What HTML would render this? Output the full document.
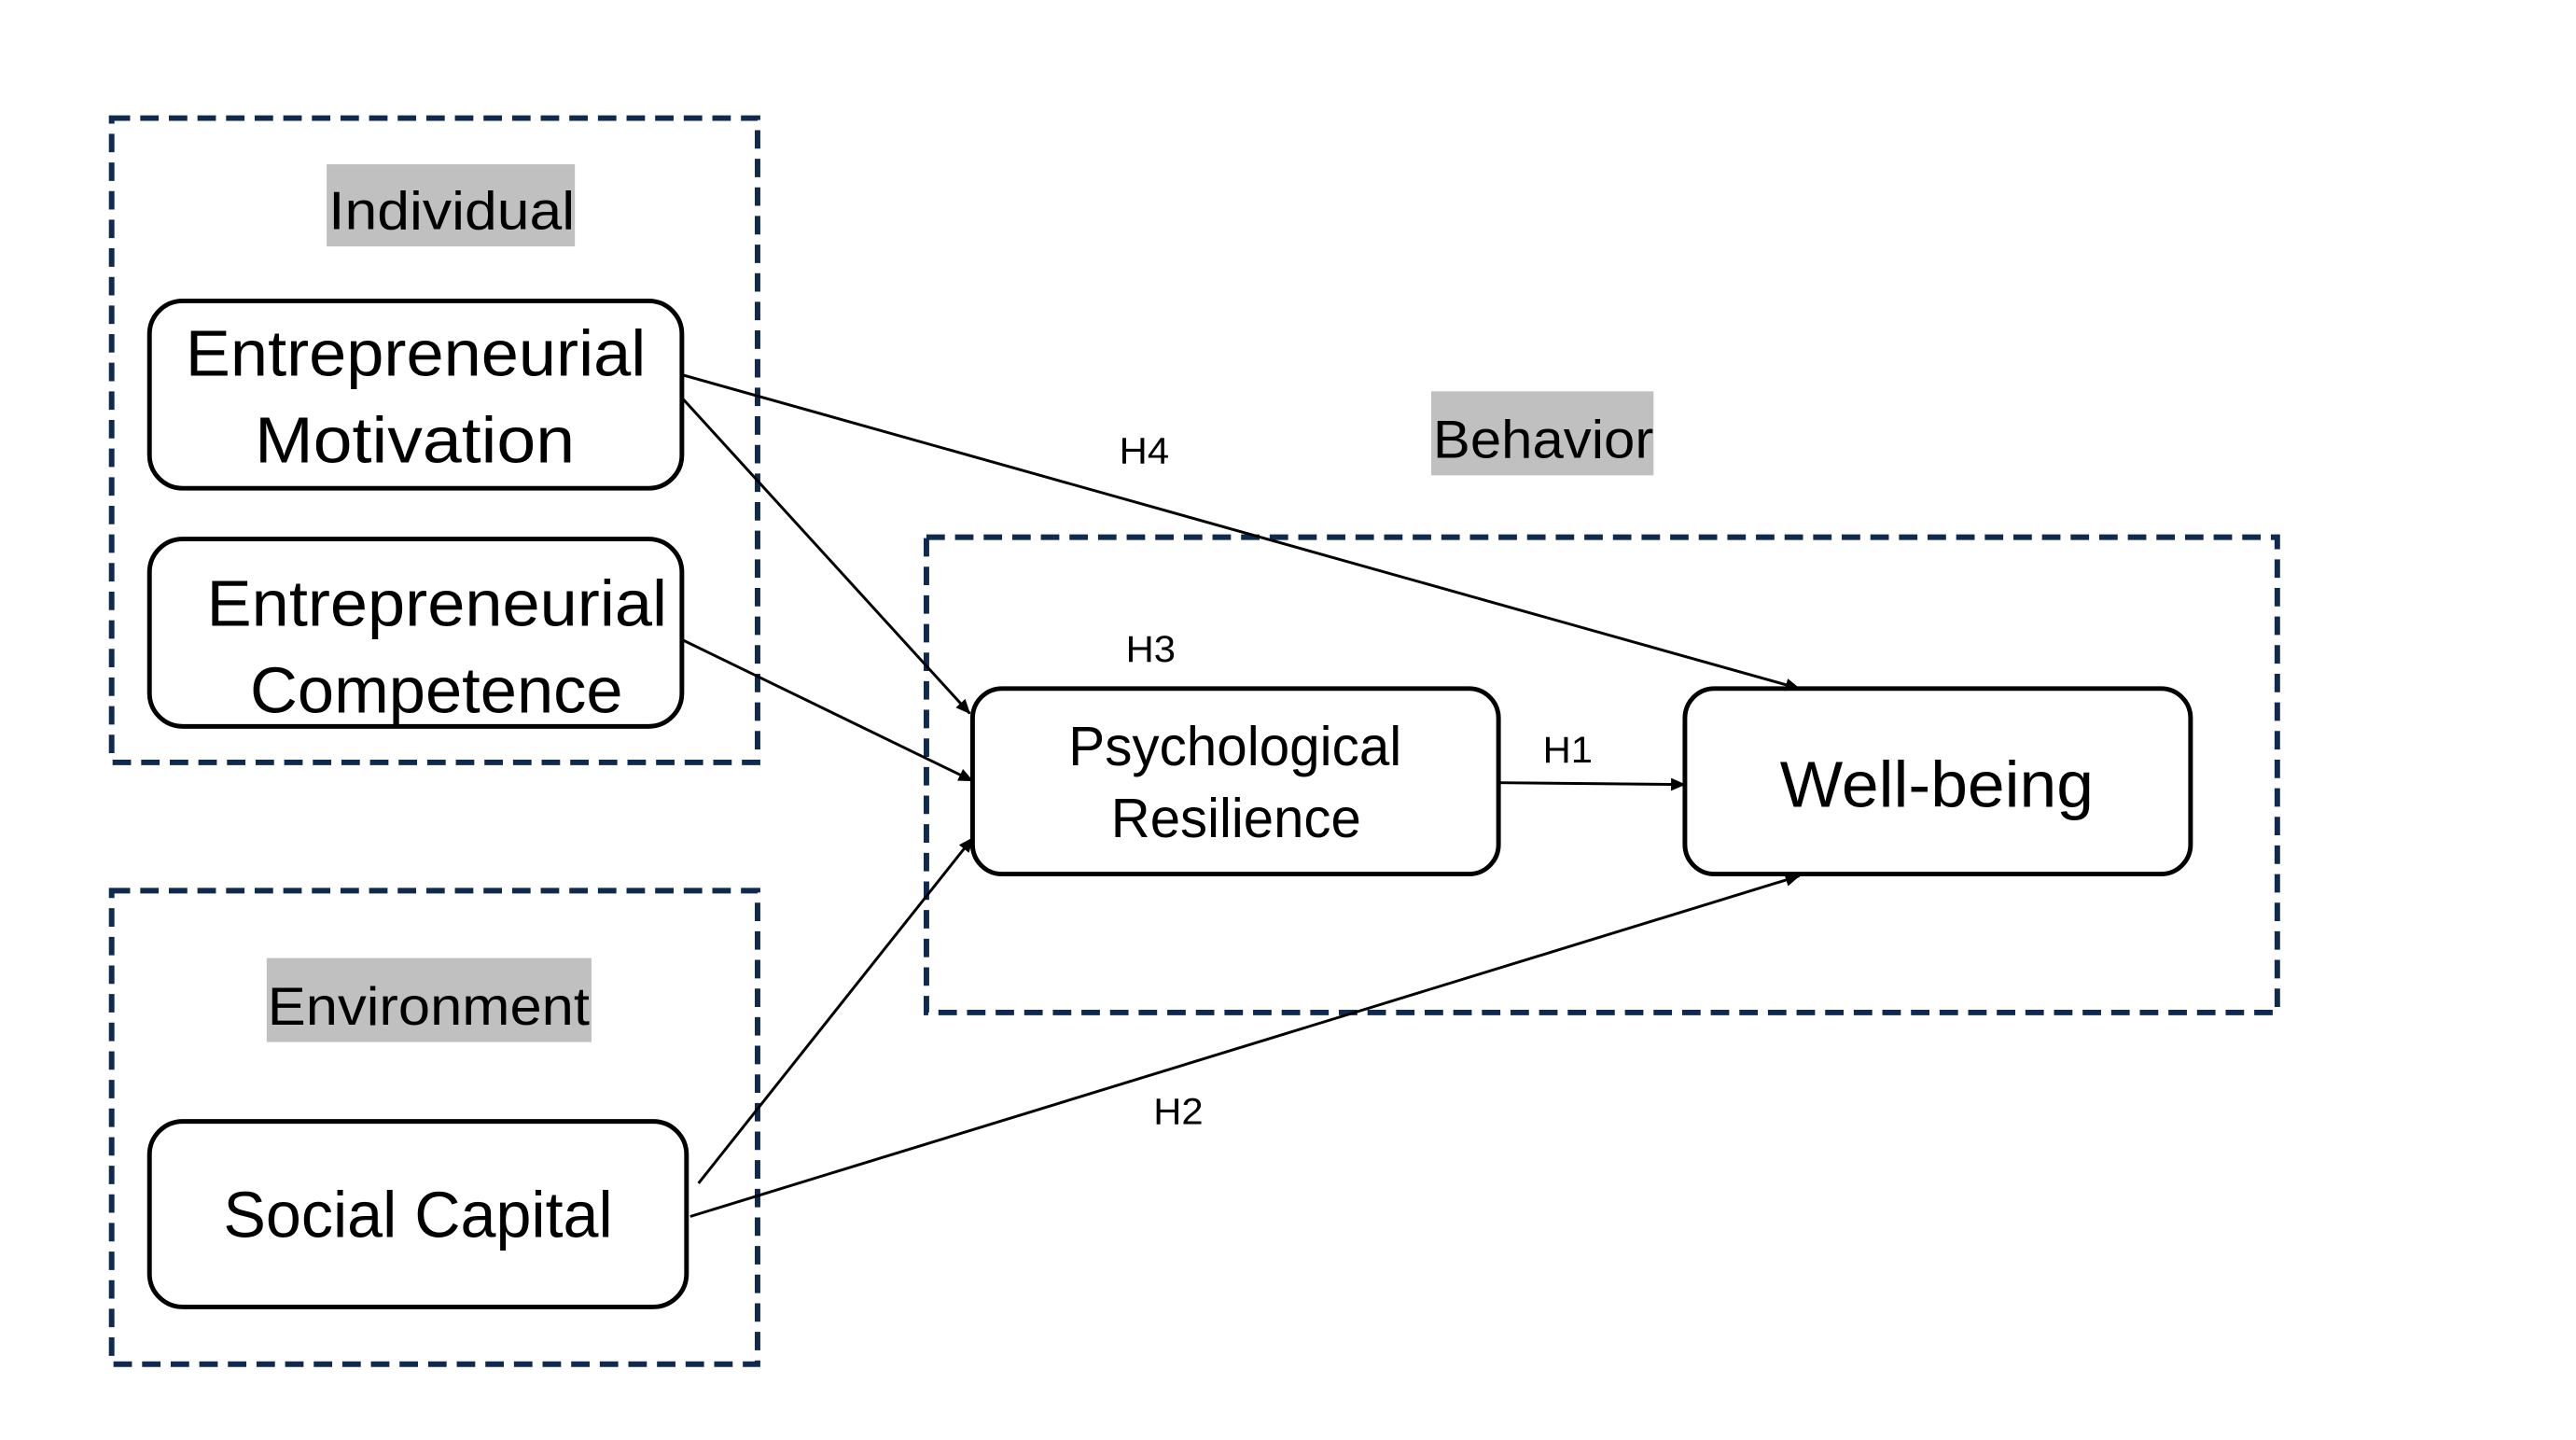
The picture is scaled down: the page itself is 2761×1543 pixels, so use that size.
<!DOCTYPE html>
<html><head><meta charset="utf-8"><style>html,body{margin:0;padding:0;background:#fff}svg{display:block}</style></head>
<body>
<svg width="2761" height="1543" viewBox="0 0 2761 1543" xmlns="http://www.w3.org/2000/svg" font-family="Liberation Sans, sans-serif" fill="#000">
<defs>
<marker id="b" markerWidth="16" markerHeight="14" refX="15" refY="7" orient="auto" markerUnits="userSpaceOnUse"><path d="M0,0 L16,7 L0,14 z" fill="#000"/></marker>
</defs>
<g transform="scale(0.989)">
<g fill="none" stroke="#0f2a4e" stroke-width="6" stroke-dasharray="20,11">
<rect x="121" y="128" width="700" height="698"/>
<rect x="121" y="965" width="700" height="513"/>
<rect x="1004" y="582" width="1464" height="515"/>
</g>
<g fill="#c0c0c0">
<rect x="354" y="178" width="269" height="89"/>
<rect x="289" y="1038" width="352" height="91"/>
<rect x="1551" y="424" width="241" height="91"/>
</g>
<g fill="#fff" stroke="#000" stroke-width="5">
<rect x="162" y="326" width="577" height="203" rx="36"/>
<rect x="162" y="584" width="577" height="203" rx="36"/>
<rect x="162" y="1215" width="582" height="201" rx="36"/>
<rect x="1054" y="746" width="570" height="201" rx="32"/>
<rect x="1826" y="746" width="548" height="201" rx="32"/>
</g>
<g stroke="#000" stroke-width="3" fill="none">
<line x1="739" y1="406" x2="1950" y2="746" marker-end="url(#b)"/>
<line x1="739" y1="431" x2="1051" y2="773" marker-end="url(#b)"/>
<line x1="739" y1="693" x2="1054" y2="846" marker-end="url(#b)"/>
<line x1="757" y1="1282" x2="1054" y2="908" marker-end="url(#b)"/>
<line x1="748" y1="1318" x2="1950" y2="949" marker-end="url(#b)"/>
<line x1="1624" y1="848" x2="1826" y2="850" marker-end="url(#b)"/>
</g>
<g font-size="58">
<text x="356" y="248" textLength="267" lengthAdjust="spacingAndGlyphs">Individual</text>
<text x="290" y="1110" textLength="349" lengthAdjust="spacingAndGlyphs">Environment</text>
<text x="1553" y="496" textLength="239" lengthAdjust="spacingAndGlyphs">Behavior</text>
</g>
<g font-size="70">
<text x="201" y="407" textLength="499" lengthAdjust="spacingAndGlyphs">Entrepreneurial</text>
<text x="276" y="501" textLength="347" lengthAdjust="spacingAndGlyphs">Motivation</text>
<text x="224" y="678" textLength="499" lengthAdjust="spacingAndGlyphs">Entrepreneurial</text>
<text x="271" y="772" textLength="404" lengthAdjust="spacingAndGlyphs">Competence</text>
<text x="242" y="1340" textLength="422" lengthAdjust="spacingAndGlyphs">Social Capital</text>
<text x="1929" y="874" textLength="340" lengthAdjust="spacingAndGlyphs">Well-being</text>
</g>
<g font-size="60">
<text x="1158" y="829" textLength="361" lengthAdjust="spacingAndGlyphs">Psychological</text>
<text x="1204" y="907" textLength="271" lengthAdjust="spacingAndGlyphs">Resilience</text>
</g>
<g font-size="40">
<text x="1213" y="502" textLength="54" lengthAdjust="spacingAndGlyphs">H4</text>
<text x="1220" y="717" textLength="54" lengthAdjust="spacingAndGlyphs">H3</text>
<text x="1672" y="826" textLength="54" lengthAdjust="spacingAndGlyphs">H1</text>
<text x="1250" y="1218" textLength="54" lengthAdjust="spacingAndGlyphs">H2</text>
</g>
</g>
</svg>
</body></html>
